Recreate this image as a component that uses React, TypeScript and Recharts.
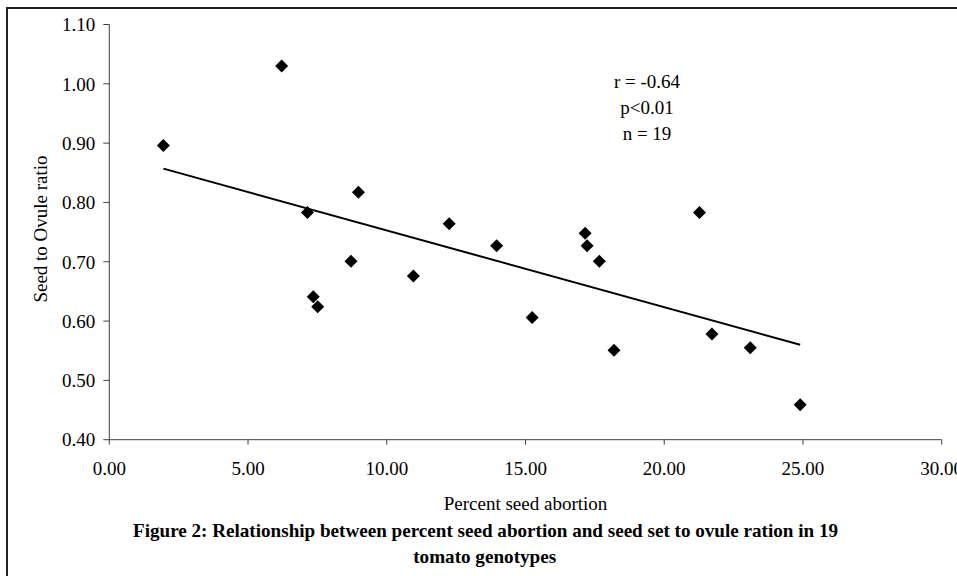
import React from 'react'
import { ScatterChart, Scatter, XAxis, YAxis } from 'recharts'

// percent seed abortion (x) and seed to ovule ratio (y) for each genotype
const abortion = [1.95, 6.21, 7.14, 8.98, 8.71, 10.96, 12.25, 7.35, 7.51, 13.96, 17.15, 17.22, 17.66, 21.27, 15.24, 18.19, 21.72, 23.1, 24.9]
const seedOvule = [0.896, 1.03, 0.783, 0.817, 0.701, 0.676, 0.764, 0.641, 0.624, 0.727, 0.748, 0.727, 0.701, 0.783, 0.606, 0.551, 0.578, 0.555, 0.459]

// linear trendline end points, as drawn
const trendX = [1.95, 24.9]
const trendY = [0.857, 0.56]

const xTicks = [0, 5, 10, 15, 20, 25, 30]
const yTicks = [0.4, 0.5, 0.6, 0.7, 0.8, 0.9, 1.0, 1.1]

const points = abortion.map((x, i) => ({ x, y: seedOvule[i] }))
const trend = trendX.map((x, i) => ({ x, y: trendY[i] }))

const FONT = '"Liberation Serif", "Times New Roman", serif'
const AXIS = '#404040'

const Diamond = (props: any) => {
  const { cx, cy } = props
  const r = 6.5
  return <polygon points={`${cx},${cy - r} ${cx + r},${cy} ${cx},${cy + r} ${cx - r},${cy}`} fill="#000" />
}

const NoDot = () => <g />

export default function App() {
  return (
    <div style={{ position: 'absolute', left: 0, top: 0, width: 957, height: 576, overflow: 'hidden', background: '#fff' }}>
      <div
        style={{
          position: 'absolute',
          left: 6,
          top: 7,
          width: 1000,
          height: 600,
          border: '2px solid #222',
          boxSizing: 'border-box',
        }}
      />
      <div style={{ position: 'absolute', left: 0, top: 0 }}>
        <ScatterChart width={957} height={576} margin={{ top: 24.5, right: 15.3, bottom: 106.3, left: 49.3 }}>
          <XAxis
            type="number"
            dataKey="x"
            domain={[0, 30]}
            ticks={xTicks}
            tickFormatter={(v: number) => v.toFixed(2)}
            stroke={AXIS}
            tickSize={5}
            tickMargin={17}
            height={30}
            tick={{ fill: '#000', fontFamily: FONT, fontSize: 19 }}
            allowDataOverflow
            interval={0}
          />
          <YAxis
            type="number"
            dataKey="y"
            domain={[0.4, 1.1]}
            ticks={yTicks}
            tickFormatter={(v: number) => v.toFixed(2)}
            stroke={AXIS}
            tickSize={6}
            tickMargin={8}
            width={60}
            tick={{ fill: '#000', fontFamily: FONT, fontSize: 19 }}
            allowDataOverflow
            interval={0}
          />
          <Scatter data={points} shape={Diamond} isAnimationActive={false} />
          <Scatter
            data={trend}
            line={{ stroke: '#000', strokeWidth: 2 }}
            shape={NoDot}
            isAnimationActive={false}
          />
        </ScatterChart>
      </div>
      <svg width={957} height={576} style={{ position: 'absolute', left: 0, top: 0, pointerEvents: 'none' }}>
        <g fontFamily={FONT} fill="#000">
          <text x={647} y={88} fontSize={19} textAnchor="middle">r = -0.64</text>
          <text x={647} y={113.5} fontSize={19} textAnchor="middle">p&lt;0.01</text>
          <text x={647} y={140} fontSize={19} textAnchor="middle">n = 19</text>
          <text x={46.5} y={229} fontSize={19} textAnchor="middle" transform="rotate(-90 46.5 229)">
            Seed to Ovule ratio
          </text>
          <text x={525.5} y={510} fontSize={19} textAnchor="middle">Percent seed abortion</text>
          <text x={485.5} y={536.5} fontSize={19} fontWeight="bold" textAnchor="middle" textLength={705} lengthAdjust="spacingAndGlyphs">
            Figure 2: Relationship between percent seed abortion and seed set to ovule ration in 19
          </text>
          <text x={484.7} y={563} fontSize={19} fontWeight="bold" textAnchor="middle" textLength={143} lengthAdjust="spacingAndGlyphs">
            tomato genotypes
          </text>
        </g>
      </svg>
    </div>
  )
}
